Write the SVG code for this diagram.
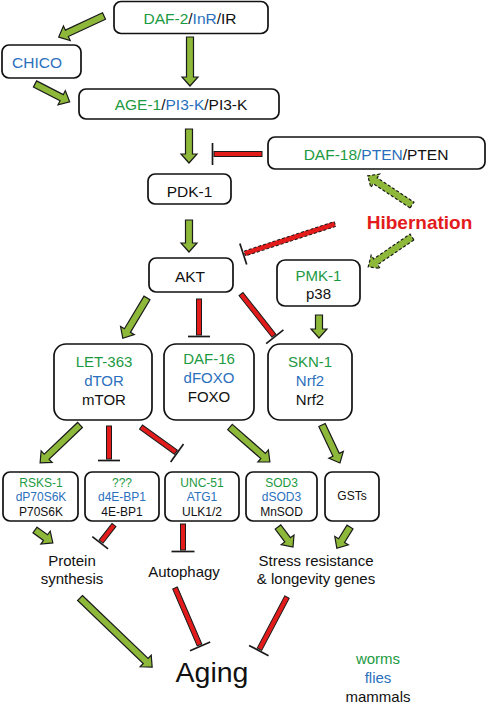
<svg xmlns="http://www.w3.org/2000/svg" width="487" height="705" viewBox="0 0 487 705">
<style>
text{font-family:"Liberation Sans",Arial,sans-serif;text-anchor:middle;fill:#111}
.box{fill:#fff;stroke:#111;stroke-width:1.7}
.g{fill:#1c9a42}
.b{fill:#2b70bd}
.k{fill:#111}
.t155{font-size:15.5px}
.t15{font-size:15px}
.t12{font-size:12px}
.act{fill:#8db83a;stroke:#1a1a1a;stroke-width:1.2;stroke-linejoin:miter}
.dash{stroke-dasharray:3 2}
.inh{fill:#e31b1b;stroke:#1a1a1a;stroke-width:1}
.bar{stroke:#1a1a1a;stroke-width:1.7;fill:none}
</style>
<g id="connectors">
<!-- activations -->
<path class="act" transform="translate(104,16) rotate(155)" d="M0,-3.5H41V-8L50,0L41,8V3.5H0Z"/>
<path class="act" transform="translate(190,37) rotate(90)" d="M0,-3.5H40V-8L49,0L40,8V3.5H0Z"/>
<path class="act" transform="translate(35,84) rotate(27.2)" d="M0,-3.5H30V-8L39,0L30,8V3.5H0Z"/>
<path class="act" transform="translate(189,129) rotate(90)" d="M0,-3.5H25V-8L34,0L25,8V3.5H0Z"/>
<path class="act" transform="translate(189,220) rotate(90)" d="M0,-3.5H23V-8L32,0L23,8V3.5H0Z"/>
<path class="act dash" transform="translate(412,205) rotate(-146.6)" d="M0,-3.5H44V-8L53,0L44,8V3.5H0Z"/>
<path class="act dash" transform="translate(412,237) rotate(145.7)" d="M0,-3.5H44V-8L53,0L44,8V3.5H0Z"/>
<path class="act" transform="translate(147,298) rotate(121)" d="M0,-3.5H38V-8L47,0L38,8V3.5H0Z"/>
<path class="act" transform="translate(319,315) rotate(90)" d="M0,-3.5H14V-8L23,0L14,8V3.5H0Z"/>
<path class="act" transform="translate(80,425) rotate(136.5)" d="M0,-3.5H46V-8L55,0L46,8V3.5H0Z"/>
<path class="act" transform="translate(230,427) rotate(41.2)" d="M0,-3.5H44V-8L53,0L44,8V3.5H0Z"/>
<path class="act" transform="translate(322,425) rotate(64.7)" d="M0,-3.5H33V-8L42,0L33,8V3.5H0Z"/>
<path class="act" transform="translate(35,530) rotate(35.8)" d="M0,-3.5H13V-8L22,0L13,8V3.5H0Z"/>
<path class="act" transform="translate(278,527) rotate(53.1)" d="M0,-3.5H16V-8L25,0L16,8V3.5H0Z"/>
<path class="act" transform="translate(350,527) rotate(121.8)" d="M0,-3.5H16V-8L25,0L16,8V3.5H0Z"/>
<path class="act" transform="translate(80,598) rotate(43.8)" d="M0,-3.5H91V-8L100,0L91,8V3.5H0Z"/>
<!-- inhibitions -->
<g transform="translate(262,154) rotate(180)"><rect class="inh" x="0" y="-2.5" width="48" height="5"/><line class="bar" x1="49.5" y1="-11" x2="49.5" y2="11"/></g>
<g transform="translate(335,224) rotate(161.9)"><rect class="inh dash" x="0" y="-2.5" width="95" height="5"/><line class="bar" x1="96.5" y1="-11" x2="96.5" y2="11"/></g>
<g transform="translate(199,299) rotate(90)"><rect class="inh" x="0" y="-2.5" width="36" height="5"/><line class="bar" x1="37.5" y1="-11" x2="37.5" y2="11"/></g>
<g transform="translate(241,294) rotate(51.7)"><rect class="inh" x="0" y="-2.5" width="53" height="5"/><line class="bar" x1="54.5" y1="-11" x2="54.5" y2="11"/></g>
<g transform="translate(109,426) rotate(90)"><rect class="inh" x="0" y="-2.5" width="33" height="5"/><line class="bar" x1="34.5" y1="-11" x2="34.5" y2="11"/></g>
<g transform="translate(141,427) rotate(35.8)"><rect class="inh" x="0" y="-2.5" width="43" height="5"/><line class="bar" x1="44.5" y1="-11" x2="44.5" y2="11"/></g>
<g transform="translate(114,525) rotate(127.9)"><rect class="inh" x="0" y="-2.5" width="21" height="5"/><line class="bar" x1="22.5" y1="-10" x2="22.5" y2="10"/></g>
<g transform="translate(183,524) rotate(90)"><rect class="inh" x="0" y="-2.5" width="26" height="5"/><line class="bar" x1="27.5" y1="-11.5" x2="27.5" y2="11.5"/></g>
<g transform="translate(175,588) rotate(66.7)"><rect class="inh" x="0" y="-2.5" width="62" height="5"/><line class="bar" x1="63.5" y1="-11" x2="63.5" y2="11"/></g>
<g transform="translate(287,597) rotate(117.8)"><rect class="inh" x="0" y="-2.5" width="59" height="5"/><line class="bar" x1="60.5" y1="-11" x2="60.5" y2="11"/></g>
</g>
<g id="daf2"><rect class="box" x="114" y="1.5" width="154" height="32" rx="7"/><text class="t155" x="190" y="23.5"><tspan class="g">DAF-2</tspan><tspan class="k">/</tspan><tspan class="b">InR</tspan><tspan class="k">/IR</tspan></text></g>
<g id="chico"><rect class="box" x="2" y="45" width="79" height="33" rx="7"/><text class="t155 b" x="37" y="67.5">CHICO</text></g>
<g id="age1"><rect class="box" x="79" y="89" width="200" height="30" rx="7"/><text class="t155" x="181" y="109.5"><tspan class="g">AGE-1</tspan><tspan class="k">/</tspan><tspan class="b">PI3-K</tspan><tspan class="k">/PI3-K</tspan></text></g>
<g id="daf18"><rect class="box" x="268" y="137" width="217" height="32" rx="7"/><text class="t155" x="376" y="160"><tspan class="g">DAF-18/</tspan><tspan class="b">PTEN</tspan><tspan class="k">/PTEN</tspan></text></g>
<g id="pdk1"><rect class="box" x="148" y="174" width="83" height="30" rx="7"/><text class="t155 k" x="189.5" y="196.5">PDK-1</text></g>
<g id="hibernation"><text x="419.5" y="229" style="font-size:19px;font-weight:bold;fill:#e31b1b">Hibernation</text></g>
<g id="akt"><rect class="box" x="149" y="258" width="84" height="34" rx="7"/><text class="t155 k" x="190" y="281.5">AKT</text></g>
<g id="pmk1"><rect class="box" x="277" y="260" width="83" height="46" rx="8"/><text class="t15 g" x="318.5" y="280.5">PMK-1</text><text class="t15 k" x="318.5" y="299">p38</text></g>
<g id="let363"><rect class="box" x="54" y="344" width="98" height="76" rx="12"/><text class="t15 g" x="104" y="366.5">LET-363</text><text class="t15 b" x="104" y="385.5">dTOR</text><text class="t15 k" x="104" y="404.5">mTOR</text></g>
<g id="daf16"><rect class="box" x="164" y="344" width="90" height="76" rx="12"/><text class="t15 g" x="209" y="363.5">DAF-16</text><text class="t15 b" x="209" y="382.5">dFOXO</text><text class="t15 k" x="209" y="402">FOXO</text></g>
<g id="skn1"><rect class="box" x="268" y="344" width="84" height="76" rx="12"/><text class="t15 g" x="310" y="366.5">SKN-1</text><text class="t15 b" x="310" y="385.5">Nrf2</text><text class="t15 k" x="310" y="404.5">Nrf2</text></g>
<g id="rsks1"><rect class="box" x="3" y="472" width="75" height="49" rx="7"/><text class="t12 g" x="41" y="486.5">RSKS-1</text><text class="t12 b" x="41" y="500.5">dP70S6K</text><text class="t12 k" x="41" y="515.5">P70S6K</text></g>
<g id="e4bp1"><rect class="box" x="85" y="472" width="74" height="49" rx="7"/><text class="t12 g" x="122" y="486.5">???</text><text class="t12 b" x="122" y="500.5">d4E-BP1</text><text class="t12 k" x="122" y="515.5">4E-BP1</text></g>
<g id="unc51"><rect class="box" x="165" y="472" width="74" height="49" rx="7"/><text class="t12 g" x="202" y="486.5">UNC-51</text><text class="t12 b" x="202" y="500.5">ATG1</text><text class="t12 k" x="202" y="515.5">ULK1/2</text></g>
<g id="sod3"><rect class="box" x="246" y="472" width="71" height="49" rx="7"/><text class="t12 g" x="281.5" y="486.5">SOD3</text><text class="t12 b" x="281.5" y="500.5">dSOD3</text><text class="t12 k" x="281.5" y="515.5">MnSOD</text></g>
<g id="gsts"><rect class="box" x="325" y="472" width="54" height="49" rx="7"/><text class="t12 k" x="352" y="500">GSTs</text></g>
<g id="protein"><text class="t15 k" x="72" y="565.5">Protein</text><text class="t15 k" x="72" y="583.5">synthesis</text></g>
<g id="autophagy"><text class="t15 k" x="184" y="577">Autophagy</text></g>
<g id="stress"><text class="t15 k" x="316" y="565.5">Stress resistance</text><text class="t15 k" x="316" y="583.5">&amp; longevity genes</text></g>
<g id="aging"><text class="k" x="212" y="682" style="font-size:28.5px">Aging</text></g>
<g id="legend"><text class="t15 g" x="378" y="663.5">worms</text><text class="t15 b" x="378" y="682.5">flies</text><text class="t15 k" x="378" y="702">mammals</text></g>
</svg>
